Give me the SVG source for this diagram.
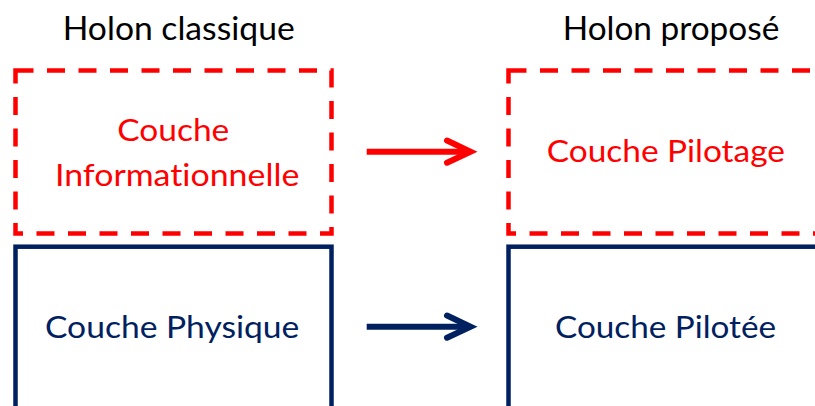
<svg xmlns="http://www.w3.org/2000/svg" width="815" height="406" viewBox="0 0 815 406">
  <style>
    text { font-family: Lato, "Liberation Sans", Arial, sans-serif; font-variant-ligatures: none; font-feature-settings: "liga" 0, "dlig" 0; }
    .hdr { font-size: 33px; fill: #000000; }
    .lblr { font-size: 30.5px; fill: #FF0000; }
    .lbln { font-size: 30.5px; fill: #002060; }
    .dash { fill: none; stroke: #FF0000; stroke-width: 4.5; stroke-dasharray: 18 13.5; }
    .solid { fill: none; stroke: #002060; stroke-width: 4.5; }
    .shaft-r { stroke: #FF0000; stroke-width: 6; fill: none; stroke-linecap: butt; }
    .head-r { stroke: #FF0000; stroke-width: 6; fill: none; stroke-linecap: round; stroke-linejoin: miter; }
    .shaft-n { stroke: #002060; stroke-width: 6; fill: none; stroke-linecap: butt; }
    .head-n { stroke: #002060; stroke-width: 6; fill: none; stroke-linecap: round; stroke-linejoin: miter; }
  </style>
  <rect width="815" height="406" fill="#FFFFFF"/>

  <g id="title-classique">
    <text class="hdr" x="62.7" y="40" textLength="232" lengthAdjust="spacingAndGlyphs">Holon classique</text>
  </g>
  <g id="title-propose">
    <text class="hdr" x="562.7" y="40" textLength="216.6" lengthAdjust="spacingAndGlyphs">Holon proposé</text>
  </g>

  <g id="couche-informationnelle">
    <rect class="dash" x="15.5" y="70.5" width="316" height="163"/>
    <text class="lblr" x="117.3" y="141" textLength="112" lengthAdjust="spacingAndGlyphs">Couche</text>
    <text class="lblr" x="55" y="186" textLength="244.3" lengthAdjust="spacingAndGlyphs">Informationnelle</text>
  </g>

  <g id="couche-pilotage">
    <rect class="dash" x="508.5" y="70.5" width="316" height="163"/>
    <text class="lblr" x="546.7" y="162.3" textLength="238.3" lengthAdjust="spacingAndGlyphs">Couche Pilotage</text>
  </g>

  <g id="couche-physique">
    <rect class="solid" x="15.5" y="246.7" width="316" height="200"/>
    <text class="lbln" x="45" y="337.7" textLength="254.3" lengthAdjust="spacingAndGlyphs">Couche Physique</text>
  </g>

  <g id="couche-pilotee">
    <rect class="solid" x="508.5" y="246.7" width="316" height="200"/>
    <text class="lbln" x="555" y="337.7" textLength="221" lengthAdjust="spacingAndGlyphs">Couche Pilotée</text>
  </g>

  <g id="connectors">
    <line class="shaft-r" x1="366.7" y1="151.7" x2="467" y2="151.7"/>
    <path class="head-r" d="M447,140.5 L470.5,151.7 L447,162.7"/>
    <line class="shaft-n" x1="366.7" y1="326.7" x2="467" y2="326.7"/>
    <path class="head-n" d="M447,315.5 L470.5,326.7 L447,337.7"/>
  </g>
</svg>
